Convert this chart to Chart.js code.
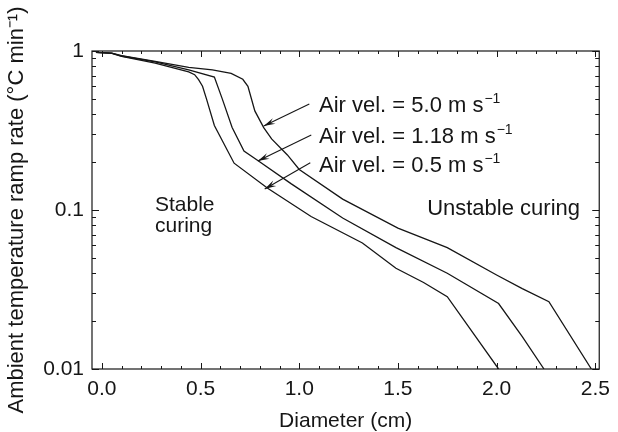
<!DOCTYPE html>
<html>
<head>
<meta charset="utf-8">
<script src="https://cdn.jsdelivr.net/npm/chart.js@4"></script>
<style>
  html, body { margin: 0; padding: 0; background: #fff; }
  #wrap { width: 618px; height: 432px; }
</style>
</head>
<body>
<div id="wrap"><canvas id="rampChart" width="618" height="432"></canvas></div>
<script>
// curves (diameter in cm, ramp rate in °C/min)
const slowX = [-0.03, 0.05, 0.10, 0.27, 0.44, 0.47, 0.49, 0.51, 0.53, 0.57, 0.67, 0.84, 1.06, 1.32, 1.49, 1.63, 1.75, 2.01];
const slowY = [0.98, 0.965, 0.925, 0.84, 0.74, 0.71, 0.66, 0.60, 0.50, 0.34, 0.197, 0.137, 0.091, 0.062, 0.043, 0.035, 0.0285, 0.01];

const midX = [-0.03, 0.05, 0.10, 0.27, 0.44, 0.57, 0.61, 0.66, 0.72, 0.79, 0.96, 1.22, 1.49, 1.75, 2.01, 2.13, 2.24];
const midY = [0.98, 0.97, 0.93, 0.855, 0.76, 0.685, 0.50, 0.33, 0.235, 0.205, 0.146, 0.089, 0.058, 0.040, 0.0258, 0.016, 0.01];

const fastX = [-0.03, 0.05, 0.10, 0.27, 0.44, 0.56, 0.655, 0.714, 0.74, 0.775, 0.82, 0.86, 0.94, 1.0, 1.22, 1.5, 1.75, 2.0, 2.13, 2.265, 2.48];
const fastY = [0.98, 0.97, 0.935, 0.86, 0.79, 0.76, 0.724, 0.664, 0.60, 0.42, 0.33, 0.28, 0.222, 0.18, 0.117, 0.077, 0.058, 0.039, 0.032, 0.0265, 0.01];

// axis ticks
const xTickValues = [0, 0.5, 1.0, 1.5, 2.0, 2.5];
const xMinorTicks = [0.1, 0.2, 0.3, 0.4, 0.6, 0.7, 0.8, 0.9, 1.1, 1.2, 1.3, 1.4, 1.6, 1.7, 1.8, 1.9, 2.1, 2.2, 2.3, 2.4];
const yTickValues = [0.01, 0.1, 1];
const yTickLabels = ["0.01", "0.1", "1"];
const yMinorTicks = [0.02, 0.03, 0.04, 0.05, 0.06, 0.07, 0.08, 0.09, 0.2, 0.3, 0.4, 0.5, 0.6, 0.7, 0.8, 0.9];

// labels with arrows (data coordinates)
const labelTexts = ["Air vel. = 5.0 m s", "Air vel. = 1.18 m s", "Air vel. = 0.5 m s"];
const labelX = [1.10, 1.10, 1.10];
const labelY = [0.415, 0.2627, 0.1726];
const arrowFromX = [1.051, 1.061, 1.056];
const arrowFromY = [0.464, 0.296, 0.198];
const arrowToX = [0.82, 0.79, 0.825];
const arrowToY = [0.337, 0.203, 0.1355];

const regionTexts = ["Stable", "curing", "Unstable curing"];
const regionX = [0.269, 0.269, 1.648];
const regionY = [0.099, 0.0727, 0.093];
const regionSize = [21, 21, 22];

const ink = "#161616";
const fontFamily = "'Liberation Sans', Arial, sans-serif";

function toPoints(xs, ys) {
    return xs.map((x, i) => ({ x: x, y: ys[i] }));
}

const framePlugin = {
    id: "frame",
    afterDraw(chart) {
        const ctx = chart.ctx;
        const a = chart.chartArea;
        const xs = chart.scales.x, ys = chart.scales.y;
        ctx.save();
        ctx.strokeStyle = ink;
        ctx.lineWidth = 1.2;
        ctx.strokeRect(a.left, a.top, a.right - a.left, a.bottom - a.top);
        ctx.beginPath();
        const xTick = (v, len) => {
            const px = Math.round(xs.getPixelForValue(v)) + 0.5;
            ctx.moveTo(px, a.bottom); ctx.lineTo(px, a.bottom - len);
            ctx.moveTo(px, a.top); ctx.lineTo(px, a.top + len);
        };
        const yTick = (v, len) => {
            const py = Math.round(ys.getPixelForValue(v)) + 0.5;
            ctx.moveTo(a.left, py); ctx.lineTo(a.left + len, py);
            ctx.moveTo(a.right, py); ctx.lineTo(a.right - len, py);
        };
        xTickValues.forEach(v => xTick(v, 6));
        xMinorTicks.forEach(v => xTick(v, 3));
        yTickValues.forEach(v => yTick(v, 7));
        yMinorTicks.forEach(v => yTick(v, 4));
        ctx.lineWidth = 1;
        ctx.stroke();
        ctx.restore();
    }
};

const notePlugin = {
    id: "notes",
    afterDatasetsDraw(chart) {
        const ctx = chart.ctx;
        const xs = chart.scales.x, ys = chart.scales.y;
        ctx.save();
        ctx.fillStyle = ink;
        ctx.strokeStyle = ink;
        ctx.lineWidth = 1.1;

        // arrows
        arrowFromX.forEach((fx, i) => {
            const x0 = xs.getPixelForValue(fx), y0 = ys.getPixelForValue(arrowFromY[i]);
            const x1 = xs.getPixelForValue(arrowToX[i]), y1 = ys.getPixelForValue(arrowToY[i]);
            const ang = Math.atan2(y1 - y0, x1 - x0);
            ctx.beginPath();
            ctx.moveTo(x0, y0);
            ctx.lineTo(x1, y1);
            ctx.stroke();
            const len = 12, half = 0.26;
            ctx.beginPath();
            ctx.moveTo(x1, y1);
            ctx.lineTo(x1 - len * Math.cos(ang - half), y1 - len * Math.sin(ang - half));
            ctx.lineTo(x1 - len * 0.6 * Math.cos(ang), y1 - len * 0.6 * Math.sin(ang));
            ctx.lineTo(x1 - len * Math.cos(ang + half), y1 - len * Math.sin(ang + half));
            ctx.closePath();
            ctx.fill();
        });

        // air velocity labels with superscript
        ctx.textBaseline = "alphabetic";
        ctx.textAlign = "left";
        labelTexts.forEach((t, i) => {
            const px = xs.getPixelForValue(labelX[i]);
            const py = ys.getPixelForValue(labelY[i]);
            ctx.font = "22px " + fontFamily;
            ctx.fillText(t, px, py);
            const w = ctx.measureText(t).width;
            ctx.font = "14px " + fontFamily;
            ctx.fillText("\u22121", px + w + 1, py - 9);
        });

        regionTexts.forEach((t, i) => {
            ctx.font = regionSize[i] + "px " + fontFamily;
            ctx.fillText(t, xs.getPixelForValue(regionX[i]), ys.getPixelForValue(regionY[i]));
        });
        ctx.restore();
    }
};

document.addEventListener("DOMContentLoaded", () => {
    const ctx = document.getElementById("rampChart").getContext("2d");
    const lineStyle = { borderColor: ink, borderWidth: 1.3, pointRadius: 0, tension: 0, fill: false };

    new Chart(ctx, {
        type: "line",
        data: {
            datasets: [
                { label: "Air vel. = 5.0 m/s", data: toPoints(fastX, fastY), ...lineStyle },
                { label: "Air vel. = 1.18 m/s", data: toPoints(midX, midY), ...lineStyle },
                { label: "Air vel. = 0.5 m/s", data: toPoints(slowX, slowY), ...lineStyle },
            ],
        },
        options: {
            responsive: false,
            animation: false,
            layout: { padding: { top: 51, right: 14, left: 0, bottom: 0 } },
            plugins: {
                legend: { display: false },
                tooltip: { enabled: false },
            },
            scales: {
                x: {
                    type: "linear",
                    min: -0.05,
                    max: 2.52,
                    afterBuildTicks: s => { s.ticks = xTickValues.map(v => ({ value: v })); },
                    afterFit: s => { s.height = 63; },
                    grid: { display: false, drawTicks: false },
                    border: { display: false },
                    ticks: {
                        color: ink,
                        padding: 8,
                        maxRotation: 0,
                        autoSkip: false,
                        font: { family: fontFamily, size: 21 },
                        callback: v => v.toFixed(1),
                    },
                    title: {
                        display: true,
                        text: "Diameter (cm)",
                        color: ink,
                        padding: 0,
                        font: { family: fontFamily, size: 21, lineHeight: 1.0 },
                    },
                },
                y: {
                    type: "logarithmic",
                    min: 0.01,
                    max: 1,
                    afterBuildTicks: s => { s.ticks = yTickValues.map(v => ({ value: v })); },
                    afterFit: s => { s.width = 92; },
                    grid: { display: false, drawTicks: false },
                    border: { display: false },
                    ticks: {
                        color: ink,
                        padding: 8,
                        autoSkip: false,
                        font: { family: fontFamily, size: 21 },
                        callback: v => yTickLabels[yTickValues.indexOf(v)],
                    },
                    title: {
                        display: true,
                        text: "Ambient temperature ramp rate (°C min⁻¹)",
                        color: ink,
                        padding: { top: 6, bottom: 0 },
                        font: { family: fontFamily, size: 22, lineHeight: 1.0 },
                    },
                },
            },
        },
        plugins: [framePlugin, notePlugin],
    });
});
</script>
</body>
</html>
